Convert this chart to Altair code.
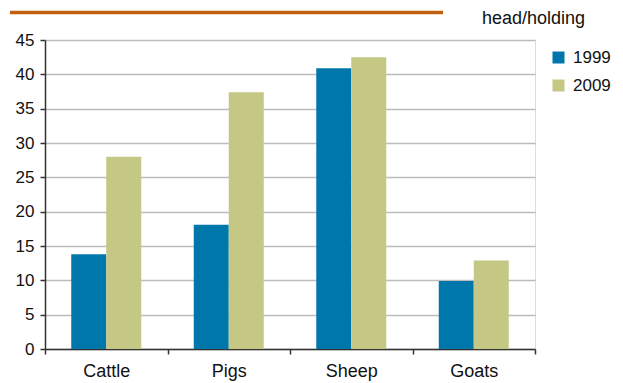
import altair as alt
import pandas as pd

species = ["Cattle", "Pigs", "Sheep", "Goats"]
years = ["1999", "2009"]
values_1999 = [13.8, 18.1, 40.9, 9.9]
values_2009 = [28.0, 37.4, 42.5, 12.9]
y_ticks = [0, 5, 10, 15, 20, 25, 30, 35, 40, 45]
unit_label = "head/holding"
colors = ["#0077AB", "#C5C785"]

rows = []
for s, a, b in zip(species, values_1999, values_2009):
    rows.append({"Species": s, "Year": "1999", "Value": a})
    rows.append({"Species": s, "Year": "2009", "Value": b})
df = pd.DataFrame(rows)

FONT = "Liberation Sans"

bars = alt.Chart(df).mark_bar().encode(
    x=alt.X("Species:N", sort=species, title=None,
            scale=alt.Scale(paddingInner=0, paddingOuter=0),
            axis=alt.Axis(labelAngle=0, tickBand="extent", grid=False,
                          domainColor="#333333", tickColor="#333333",
                          tickSize=5, tickWidth=1.5, domainWidth=1.5,
                          labelFontSize=18, labelPadding=8,
                          labelColor="#111111", labelFont=FONT)),
    xOffset=alt.XOffset("Year:N", sort=years,
                        scale=alt.Scale(paddingOuter=0.75, paddingInner=0)),
    y=alt.Y("Value:Q", title=None,
            scale=alt.Scale(domain=[0, 45], nice=False),
            axis=alt.Axis(values=y_ticks, grid=True, gridColor="#BDBDBD",
                          gridWidth=1.5, domainColor="#333333",
                          domainWidth=1.5, tickColor="#333333",
                          tickSize=5, tickWidth=1.5, labelFontSize=17,
                          labelPadding=6, labelColor="#111111",
                          labelFont=FONT)),
    color=alt.Color("Year:N", sort=years, title=None,
                    scale=alt.Scale(domain=years, range=colors),
                    legend=alt.Legend(orient="none", legendX=505, legendY=9,
                                      symbolType="square", symbolSize=144,
                                      symbolStrokeWidth=0, labelFontSize=17,
                                      labelFont=FONT, labelColor="#111111",
                                      rowPadding=10, labelOffset=6)),
)

unit_text = alt.Chart(pd.DataFrame({"t": [unit_label]})).mark_text(
    align="left", baseline="middle", fontSize=18, font=FONT, color="#111111"
).encode(text="t:N", x=alt.value(437), y=alt.value(-21))

orange_line = alt.Chart(pd.DataFrame({"t": [0]})).mark_rule(
    color="#C0600F", strokeWidth=3.5
).encode(x=alt.value(-35), x2=alt.value(398), y=alt.value(-27.5))

chart = alt.layer(bars, unit_text, orange_line).properties(
    width=490, height=309,
    autosize=alt.AutoSizeParams(type="none"),
    padding={"left": 45, "top": 40, "right": 88, "bottom": 34},
).configure_view(stroke=None).configure(background="white")

chart.save("out.html", embed_options={"renderer": "svg", "actions": False})
